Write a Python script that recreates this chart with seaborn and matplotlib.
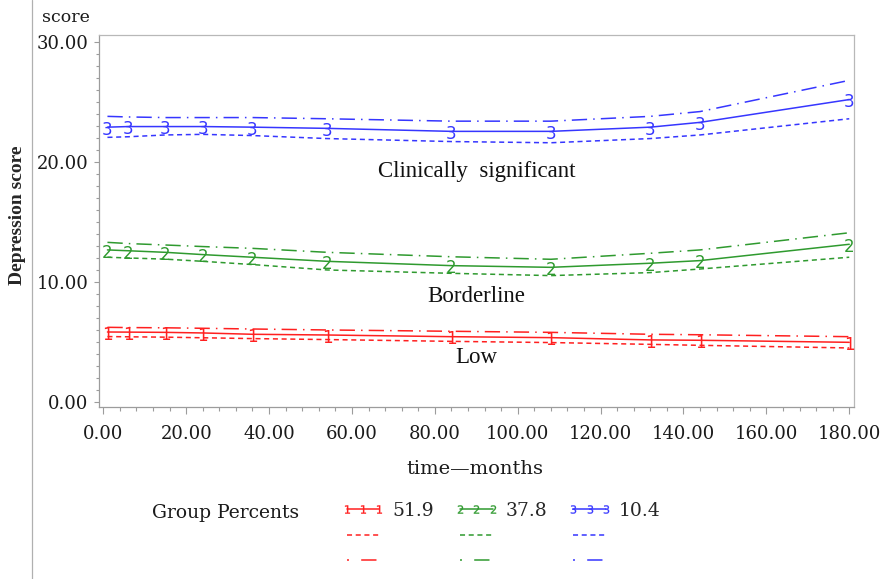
import numpy as np
import pandas as pd
import seaborn as sns
import matplotlib
matplotlib.use("Agg")
import matplotlib.pyplot as plt
from matplotlib.lines import Line2D
from matplotlib.ticker import MultipleLocator, FormatStrFormatter
from matplotlib.transforms import offset_copy

# ---------------- data ----------------
months = [1, 6, 15, 24, 36, 54, 84, 108, 132, 144, 180]

low_est   = [5.83, 5.82, 5.80, 5.75, 5.64, 5.58, 5.44, 5.36, 5.17, 5.14, 4.97]
low_lower = [5.45, 5.43, 5.40, 5.35, 5.28, 5.20, 5.05, 4.95, 4.80, 4.72, 4.50]
low_upper = [6.22, 6.20, 6.18, 6.14, 6.08, 6.00, 5.89, 5.80, 5.64, 5.60, 5.44]

bord_est   = [12.67, 12.60, 12.47, 12.28, 12.06, 11.72, 11.36, 11.22, 11.56, 11.78, 13.14]
bord_lower = [12.06, 12.00, 11.90, 11.72, 11.45, 11.00, 10.72, 10.53, 10.78, 11.08, 12.06]
bord_upper = [13.30, 13.20, 13.08, 12.95, 12.80, 12.47, 12.10, 11.89, 12.39, 12.67, 14.10]

clin_est   = [22.90, 22.95, 22.95, 22.95, 22.90, 22.80, 22.55, 22.55, 22.90, 23.30, 25.20]
clin_lower = [22.05, 22.10, 22.25, 22.30, 22.20, 21.95, 21.70, 21.60, 21.95, 22.25, 23.60]
clin_upper = [23.80, 23.75, 23.70, 23.70, 23.70, 23.60, 23.40, 23.40, 23.80, 24.20, 26.80]

group_percents = ["51.9", "37.8", "10.4"]
group_digits = ["1", "2", "3"]
group_names = ["Low", "Borderline", "Clinically  significant"]
colors = ["#ff2020", "#2f9a2f", "#3636ff"]

series = [
    (low_est, low_lower, low_upper),
    (bord_est, bord_lower, bord_upper),
    (clin_est, clin_lower, clin_upper),
]

rows = []
for g, (est, lo, up) in zip(group_percents, series):
    for t, e, l, u in zip(months, est, lo, up):
        rows.append(dict(month=t, score=e, group=g, bound="est"))
        rows.append(dict(month=t, score=l, group=g, bound="lower"))
        rows.append(dict(month=t, score=u, group=g, bound="upper"))
df = pd.DataFrame(rows)

# ---------------- style ----------------
sns.set_style("ticks")
plt.rcParams["font.family"] = ["DejaVu Serif"]

W, H = 881, 579
fig = plt.figure(figsize=(W / 100, H / 100), dpi=100)
ax = fig.add_axes([99 / W, 1 - 407 / H, (854 - 99) / W, (407 - 35) / H])

dash_est = ""
dash_lower = (3.3, 2.4)
dash_upper = (10, 4, 1, 4)

sns.lineplot(
    data=df, x="month", y="score", hue="group", style="bound",
    hue_order=group_percents, style_order=["est", "lower", "upper"],
    palette=dict(zip(group_percents, colors)),
    dashes={"est": dash_est, "lower": dash_lower, "upper": dash_upper},
    estimator=None, errorbar=None, linewidth=1.1, legend=False, ax=ax,
)

# digit markers on the estimated trajectories
tr = offset_copy(ax.transData, fig=fig, x=0, y=-2.0, units="points")
for est, d, c in zip([low_est, bord_est, clin_est], group_digits, colors):
    for t, v in zip(months, est):
        ax.text(t, v, d, transform=tr, ha="center", va="center",
                color=c, fontsize=12, family="DejaVu Sans")

# group labels inside the plot
label_x = 90
label_y = [3.67, 8.83, 19.17]
for name, y in zip(group_names, label_y):
    ax.text(label_x, y, name, ha="center", va="center",
            family="Liberation Serif", fontsize=16.5, color="#111111")

# axes
ax.set_xlim(-1.04, 181.15)
ax.set_ylim(-0.42, 30.58)
ax.xaxis.set_major_locator(MultipleLocator(20))
ax.xaxis.set_minor_locator(MultipleLocator(4))
ax.yaxis.set_major_locator(MultipleLocator(10))
ax.yaxis.set_minor_locator(MultipleLocator(1))
ax.xaxis.set_major_formatter(FormatStrFormatter("%.2f"))
ax.yaxis.set_major_formatter(FormatStrFormatter("%.2f"))
ax.set_xlabel("")
ax.set_ylabel("")

for side in ["left", "bottom"]:
    ax.spines[side].set_color("#9c9c9c")
    ax.spines[side].set_linewidth(0.9)
for side in ["top", "right"]:
    ax.spines[side].set_visible(True)
    ax.spines[side].set_color("#b8b8b8")
    ax.spines[side].set_linewidth(0.9)

ax.tick_params(axis="x", which="major", length=5, width=0.8, color="#9c9c9c",
               labelsize=13, labelcolor="#1a1a1a", pad=8)
ax.tick_params(axis="x", which="minor", length=3, width=0.8, color="#9c9c9c")
ax.tick_params(axis="y", which="major", length=3.5, width=0.8, color="#9c9c9c",
               labelsize=13, labelcolor="#1a1a1a", pad=4)
ax.tick_params(axis="y", which="minor", length=2.5, width=0.8, color="#9c9c9c")

# texts around the axes
fig.text(42 / W, 1 - 18 / H, "score", ha="left", va="center", fontsize=12.5, color="#1a1a1a")
fig.text(18 / W, 1 - 215 / H, "Depression score", rotation=90, ha="center", va="center",
         family="Liberation Serif", fontweight="bold", fontsize=14)
fig.text(475 / W, 1 - 469 / H, "time\u2014months", ha="center", va="center",
         fontsize=14, color="#1a1a1a")
fig.text(152 / W, 1 - 513 / H, "Group Percents", ha="left", va="center",
         fontsize=13.5, color="#1a1a1a")

# thin vertical border line at the left of the figure
fig.add_artist(Line2D([32 / W, 32 / W], [0, 1], transform=fig.transFigure,
                      color="#b0b0b0", lw=0.9))

# legend
handles, labels = [], []
for p, d, c in zip(group_percents, group_digits, colors):
    handles.append(Line2D([], [], color=c, lw=1.1, marker=f"${d}$",
                          markersize=6, markeredgewidth=0.2))
    labels.append(p)
    handles.append(Line2D([], [], color=c, lw=1.1, linestyle=(0, (3.3, 2.4))))
    labels.append(" ")
    handles.append(Line2D([], [], color=c, lw=1.1, linestyle=(0, (1.3, 8, 10, 8))))
    labels.append(" ")

fs = 13.5 * 100 / 72
fig.legend(handles, labels, ncol=3, numpoints=3, frameon=False,
           loc="upper left", bbox_to_anchor=(341 / W, 1 - 502 / H),
           borderpad=0, borderaxespad=0, fontsize=13.5,
           handlelength=44 / fs, handletextpad=7 / fs,
           columnspacing=1.1, labelspacing=0.4)

fig.savefig("out.png", dpi=100)
